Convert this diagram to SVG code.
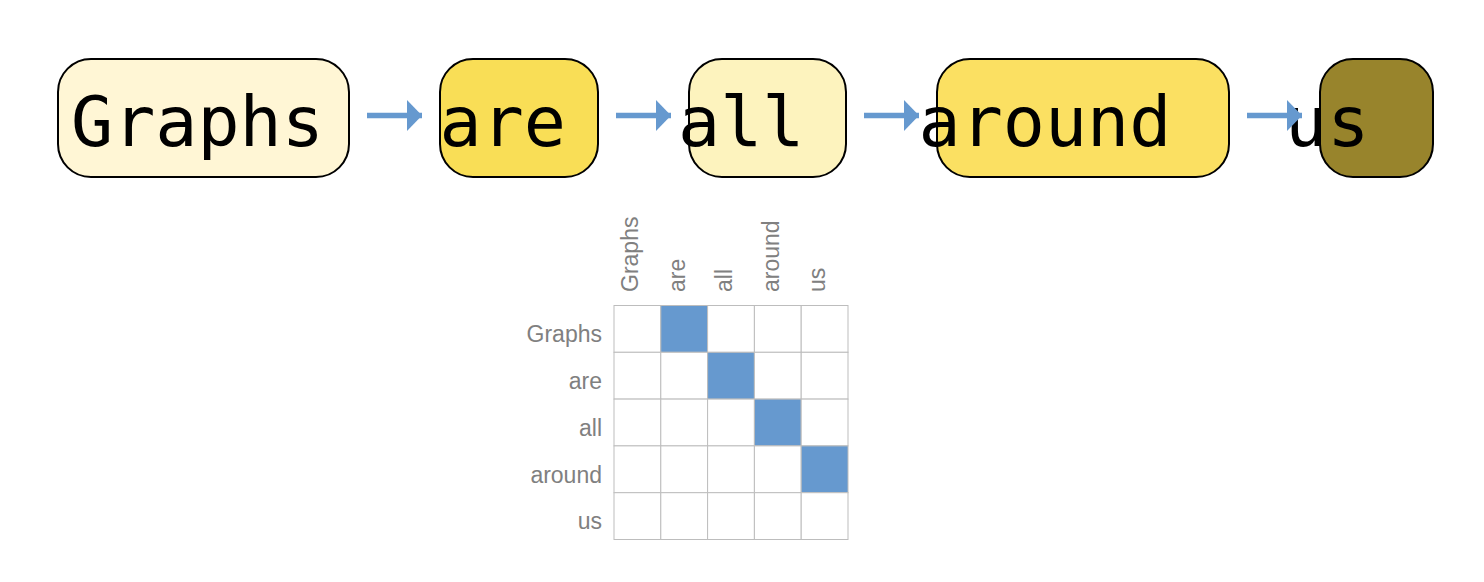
<svg xmlns="http://www.w3.org/2000/svg" width="1484" height="582" viewBox="0 0 1484 582">
  <style>
    .node { stroke: #000; stroke-width: 2; }
    .word { font-family: "DejaVu Sans Mono", monospace; font-size: 70px; fill: #000; }
    .edge { stroke: #6699cf; stroke-width: 5.5; fill: none; }
    .lbl { font-family: "Liberation Sans", Arial, sans-serif; font-size: 23px; fill: #808080; }
    .cell { fill: #fff; stroke: #bdbdbd; stroke-width: 1; }
    .on { fill: #6699cf; }
  </style>
  <defs>
    <marker id="head" markerWidth="15" markerHeight="31" refX="15" refY="15.5" orient="auto" markerUnits="userSpaceOnUse">
      <path d="M0,0 L15,15.5 L0,31 Z" fill="#6699cf"/>
    </marker>
  </defs>

  <rect width="1484" height="582" fill="#fff"/>

  <!-- token nodes -->
  <g id="node-graphs">
    <rect class="node" x="58" y="59" width="291" height="118" rx="33" fill="#fff6d5"/>
    <text class="word" x="71" y="146">Graphs</text>
  </g>
  <g id="node-are">
    <rect class="node" x="440" y="59" width="158" height="118" rx="33" fill="#f9de56"/>
    <text class="word" x="439.5" y="146">are</text>
  </g>
  <g id="node-all">
    <rect class="node" x="689" y="59" width="157" height="118" rx="33" fill="#fdf3be"/>
    <text class="word" x="678" y="146">all</text>
  </g>
  <g id="node-around">
    <rect class="node" x="937" y="59" width="292" height="118" rx="33" fill="#fbe062"/>
    <text class="word" x="918.5" y="146">around</text>
  </g>
  <g id="node-us">
    <rect class="node" x="1320" y="59" width="113" height="118" rx="33" fill="#98842c"/>
    <text class="word" x="1285" y="146">us</text>
  </g>

  <!-- sequence edges -->
  <g id="edges">
    <line class="edge" x1="367" y1="115.5" x2="422" y2="115.5" marker-end="url(#head)"/>
    <line class="edge" x1="616" y1="115.5" x2="671" y2="115.5" marker-end="url(#head)"/>
    <line class="edge" x1="864" y1="115.5" x2="919" y2="115.5" marker-end="url(#head)"/>
    <line class="edge" x1="1247" y1="115.5" x2="1302" y2="115.5" marker-end="url(#head)"/>
  </g>

  <!-- adjacency matrix -->
  <g id="matrix">
    <g id="col-labels" class="lbl">
      <text transform="translate(638,292) rotate(-90)">Graphs</text>
      <text transform="translate(685,292) rotate(-90)">are</text>
      <text transform="translate(731.5,292) rotate(-90)">all</text>
      <text transform="translate(778.5,292) rotate(-90)">around</text>
      <text transform="translate(825,292) rotate(-90)">us</text>
    </g>
    <g id="row-labels" class="lbl" text-anchor="end">
      <text x="602" y="342">Graphs</text>
      <text x="602" y="389">are</text>
      <text x="602" y="436">all</text>
      <text x="602" y="483">around</text>
      <text x="602" y="529">us</text>
    </g>
    <g id="cells">
      <rect class="cell" x="614" y="305.5" width="46.8" height="46.8"/>
      <rect class="cell on" x="660.8" y="305.5" width="46.8" height="46.8"/>
      <rect class="cell" x="707.6" y="305.5" width="46.8" height="46.8"/>
      <rect class="cell" x="754.4" y="305.5" width="46.8" height="46.8"/>
      <rect class="cell" x="801.2" y="305.5" width="46.8" height="46.8"/>

      <rect class="cell" x="614" y="352.3" width="46.8" height="46.8"/>
      <rect class="cell" x="660.8" y="352.3" width="46.8" height="46.8"/>
      <rect class="cell on" x="707.6" y="352.3" width="46.8" height="46.8"/>
      <rect class="cell" x="754.4" y="352.3" width="46.8" height="46.8"/>
      <rect class="cell" x="801.2" y="352.3" width="46.8" height="46.8"/>

      <rect class="cell" x="614" y="399.1" width="46.8" height="46.8"/>
      <rect class="cell" x="660.8" y="399.1" width="46.8" height="46.8"/>
      <rect class="cell" x="707.6" y="399.1" width="46.8" height="46.8"/>
      <rect class="cell on" x="754.4" y="399.1" width="46.8" height="46.8"/>
      <rect class="cell" x="801.2" y="399.1" width="46.8" height="46.8"/>

      <rect class="cell" x="614" y="445.9" width="46.8" height="46.8"/>
      <rect class="cell" x="660.8" y="445.9" width="46.8" height="46.8"/>
      <rect class="cell" x="707.6" y="445.9" width="46.8" height="46.8"/>
      <rect class="cell" x="754.4" y="445.9" width="46.8" height="46.8"/>
      <rect class="cell on" x="801.2" y="445.9" width="46.8" height="46.8"/>

      <rect class="cell" x="614" y="492.7" width="46.8" height="46.8"/>
      <rect class="cell" x="660.8" y="492.7" width="46.8" height="46.8"/>
      <rect class="cell" x="707.6" y="492.7" width="46.8" height="46.8"/>
      <rect class="cell" x="754.4" y="492.7" width="46.8" height="46.8"/>
      <rect class="cell" x="801.2" y="492.7" width="46.8" height="46.8"/>
    </g>
  </g>
</svg>
